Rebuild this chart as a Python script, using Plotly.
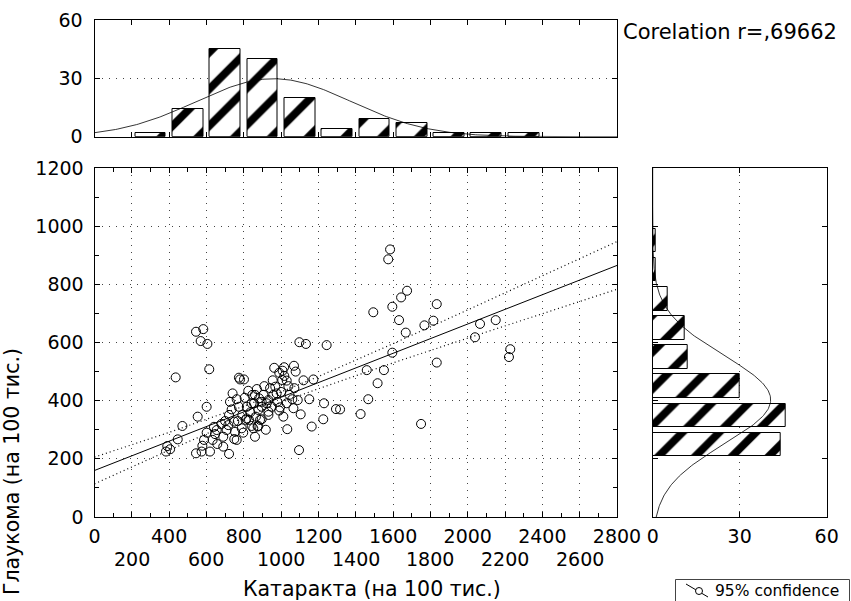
import numpy as np
import plotly.graph_objects as go

# ---------------- data ----------------
# scatter: Катаракта (x) vs Глаукома (y), per 100 thousand
kataracta = [383, 390, 405, 446, 471, 435, 544, 583, 569, 605, 615, 544, 553, 574, 578, 587,
             601, 601, 619, 633, 646, 655, 658, 690, 690, 708, 717, 721, 721, 726, 740, 749,
             749, 753, 762, 762, 774, 774, 780, 789, 792, 797, 801, 810, 815, 816, 824, 828,
             842, 842, 846, 851, 855, 860, 860, 874, 878, 878, 882, 887, 896, 896, 896, 910,
             923, 932, 932, 932, 941, 950, 958, 963, 969, 976, 980, 990, 990, 994, 1006, 1008,
             1012, 1016, 1017, 1030, 1030, 1033, 1039, 1060, 1066, 1069, 1071, 1078, 1089, 1096,
             1098, 1105, 1133, 1151, 1164, 1173, 1226, 1230, 1244, 1294, 1316, 1426, 1459, 1467,
             1494, 1517, 1551, 1574, 1584, 1596, 1596, 1632, 1643, 1668, 1675, 1750, 1768, 1816,
             1834, 1834, 2039, 2066, 2150, 2221, 2228,
             700, 735, 768, 805, 835, 865, 905, 918, 955, 1000, 1045, 1120, 680, 640, 870]
glaukoma = [225, 244, 233, 267, 313, 480, 637, 646, 605, 595, 508, 219, 345, 225, 245, 265,
            290, 379, 225, 265, 285, 299, 251, 276, 242, 299, 316, 217, 351, 396, 425, 328,
            268, 293, 405, 265, 479, 379, 473, 305, 351, 290, 473, 334, 339, 379, 434, 334,
            391, 313, 420, 305, 391, 420, 276, 311, 368, 313, 408, 334, 336, 379, 396, 450,
            391, 362, 402, 351, 443, 379, 420, 513, 448, 425, 396, 366, 496, 377, 471, 503,
            345, 515, 485, 469, 391, 302, 450, 405, 374, 520, 443, 500, 402, 230,
            601, 353, 595, 405, 311, 473, 336, 391, 591, 371, 370, 354, 505, 405,
            704, 460, 505, 886, 920, 723, 565, 677, 755, 634, 778, 320, 659, 675,
            732, 531, 618, 664, 677, 550, 577,
            330, 370, 330, 410, 360, 345, 420, 300, 470, 430, 420, 470, 320, 310, 440]

# top histogram (Катаракта), bin centres and counts
kat_bins = [300, 500, 700, 900, 1100, 1300, 1500, 1700, 1900, 2100, 2300]
kat_counts = [2, 14, 45, 40, 20, 4, 9, 7, 2, 2, 2]

# right histogram (Глаукома), bin centres and counts
gl_bins = [250, 350, 450, 550, 650, 750, 850, 950]
gl_counts = [44, 46, 30, 12, 11, 5, 1, 1]

# regression line and 95% confidence band
fit_x = [0, 2800]
fit_y = [160, 865]
band_x = [0, 400, 800, 1000, 1200, 1600, 2000, 2400, 2800]
band_up = [206, 291, 381, 430, 483, 596, 712, 830, 947]
band_lo = [114, 230, 342, 394, 441, 530, 615, 699, 783]

# fitted normal curves (parameters)
n_fit = 155
kat_mean, kat_sd, kat_binw = 960, 415, 200
gl_mean, gl_sd, gl_binw = 403, 152, 100

x_ticks = list(range(0, 2801, 200))
y_ticks = list(range(0, 1201, 200))
corr_text = "Corelation r=,69662"
x_title = "Катаракта (на 100 тис.)"
y_title = "Глаукома (на 100 тис.)"
legend_text = "95% confidence"

# ---------------- figure ----------------
FONT = "DejaVu Sans, Liberation Sans, Arial, sans-serif"
W, H = 851, 601

def px_x(p):
    return p / W

def px_y(p):
    return 1 - p / H

fig = go.Figure()

pattern = dict(shape="/", fgcolor="black", bgcolor="white", fgopacity=1, size=26, solidity=0.3)

# main scatter
fig.add_trace(go.Scatter(x=kataracta, y=glaukoma, mode="markers",
                         marker=dict(symbol="circle-open", size=9, color="black",
                                     line=dict(width=1, color="black")),
                         showlegend=False, xaxis="x", yaxis="y"))
dotline = dict(color="black", width=1.2, dash="1px,3px")
fig.add_trace(go.Scatter(x=band_x, y=band_up, mode="lines", line=dotline,
                         showlegend=False, xaxis="x", yaxis="y"))
fig.add_trace(go.Scatter(x=band_x, y=band_lo, mode="lines", line=dotline,
                         showlegend=False, xaxis="x", yaxis="y"))
fig.add_trace(go.Scatter(x=fit_x, y=fit_y, mode="lines", line=dict(color="black", width=1),
                         showlegend=False, xaxis="x", yaxis="y"))

# top histogram
fig.add_trace(go.Bar(x=kat_bins, y=kat_counts, width=165,
                     marker=dict(color="white", line=dict(color="black", width=1), pattern=pattern),
                     showlegend=False, xaxis="x2", yaxis="y2"))
cx = np.linspace(0, 2800, 300)
cy = n_fit * kat_binw / (kat_sd * np.sqrt(2 * np.pi)) * np.exp(-0.5 * ((cx - kat_mean) / kat_sd) ** 2)
fig.add_trace(go.Scatter(x=cx, y=cy, mode="lines", line=dict(color="black", width=0.8),
                         showlegend=False, xaxis="x2", yaxis="y2"))

# right histogram
fig.add_trace(go.Bar(y=gl_bins, x=gl_counts, orientation="h", width=80,
                     marker=dict(color="white", line=dict(color="black", width=1), pattern=pattern),
                     showlegend=False, xaxis="x3", yaxis="y3"))
ry = np.linspace(0, 1200, 300)
rx = n_fit * gl_binw / (gl_sd * np.sqrt(2 * np.pi)) * np.exp(-0.5 * ((ry - gl_mean) / gl_sd) ** 2)
fig.add_trace(go.Scatter(x=rx, y=ry, mode="lines", line=dict(color="black", width=0.8),
                         showlegend=False, xaxis="x3", yaxis="y3"))

tickfont = dict(family=FONT, size=19, color="black")
base = dict(showline=True, linecolor="black", linewidth=1, mirror="ticks", ticks="inside",
            ticklen=5, tickcolor="black", tickwidth=1, zeroline=False, tickfont=tickfont,
            fixedrange=True)
grid = dict(showgrid=True, gridcolor="#444", gridwidth=1, griddash="1px,6px")
nogrid = dict(showgrid=False)

dom_x_main = [px_x(94.5), px_x(617)]
dom_y_main = [px_y(517), px_y(168)]
dom_y_top = [px_y(136.7), px_y(20)]
dom_x_right = [px_x(652.7), px_x(826.7)]

fig.update_layout(
    width=W, height=H,
    margin=dict(l=0, r=0, t=0, b=0, autoexpand=False),
    paper_bgcolor="white", plot_bgcolor="white",
    font=dict(family=FONT, color="black"),
    bargap=0,
    showlegend=False,
    xaxis=dict(**base, **grid, domain=dom_x_main, anchor="y", range=[0, 2800],
               tickmode="array", tickvals=x_ticks, ticklabelstandoff=2,
               ticktext=[str(v) if v % 400 == 0 else "" for v in x_ticks],
               minor=dict(dtick=100, ticks="inside", ticklen=4, tickcolor="black", showgrid=False)),
    yaxis=dict(**base, **grid, domain=dom_y_main, anchor="x", range=[0, 1200],
               tickmode="array", tickvals=y_ticks, ticktext=[str(v) for v in y_ticks],
               ticklabelstandoff=6,
               minor=dict(dtick=100, ticks="inside", ticklen=4, tickcolor="black", showgrid=False)),
    xaxis2=dict(**base, **nogrid, domain=dom_x_main, anchor="y2", range=[0, 2800],
                tickmode="array", tickvals=x_ticks, showticklabels=False),
    yaxis2=dict(**base, **grid, domain=dom_y_top, anchor="x2", range=[0, 60],
                tickmode="array", tickvals=[0, 30, 60], ticktext=["0", "30", "60"],
                ticklabelstandoff=7),
    xaxis3=dict(**base, **grid, domain=dom_x_right, anchor="y3", range=[0, 60],
                tickmode="array", tickvals=[0, 30, 60], ticktext=["0", "30", "60"],
                ticklabelstandoff=2),
    yaxis3=dict(**base, **nogrid, domain=dom_y_main, anchor="x3", range=[0, 1200],
                tickmode="array", tickvals=y_ticks, showticklabels=False),
)

# legend box (drawn by hand, bottom edge runs off the picture as in the reference)
shapes = [
    dict(type="rect", xref="paper", yref="paper", x0=px_x(675.5), x1=px_x(849.5),
         y0=px_y(606), y1=px_y(579.5), line=dict(color="#444", width=1), fillcolor="white"),
    dict(type="line", xref="paper", yref="paper", x0=px_x(686), y0=px_y(584),
         x1=px_x(708), y1=px_y(597), line=dict(color="black", width=1)),
    dict(type="circle", xref="paper", yref="paper", x0=px_x(695.5), x1=px_x(702.5),
         y0=px_y(594.5), y1=px_y(587.5), line=dict(color="black", width=1), fillcolor="white"),
]
fig.update_layout(shapes=shapes)

annotations = []
# second row of x tick labels
for v in x_ticks:
    if v % 400 != 0:
        annotations.append(dict(x=v, xref="x", y=px_y(559), yref="paper", text=str(v),
                                showarrow=False, xanchor="center", yanchor="middle",
                                font=tickfont))
annotations.append(dict(x=px_x(372), y=px_y(589), xref="paper", yref="paper", text=x_title,
                        showarrow=False, xanchor="center", yanchor="middle",
                        font=dict(family=FONT, size=20.5, color="black")))
annotations.append(dict(x=px_x(12), y=px_y(472), xref="paper", yref="paper", text=y_title,
                        textangle=-90, showarrow=False, xanchor="center", yanchor="middle",
                        font=dict(family=FONT, size=20.5, color="black")))
annotations.append(dict(x=px_x(621), y=px_y(32), xref="paper", yref="paper", text=corr_text,
                        showarrow=False, xanchor="left", yanchor="middle",
                        font=dict(family=FONT, size=21, color="black")))
annotations.append(dict(x=px_x(713), y=px_y(591), xref="paper", yref="paper", text=legend_text,
                        showarrow=False, xanchor="left", yanchor="middle",
                        font=dict(family=FONT, size=15.5, color="black")))
fig.update_layout(annotations=annotations)

fig.write_html("out.html", config={"displayModeBar": False},
               post_script="document.body.style.margin='0px';")
